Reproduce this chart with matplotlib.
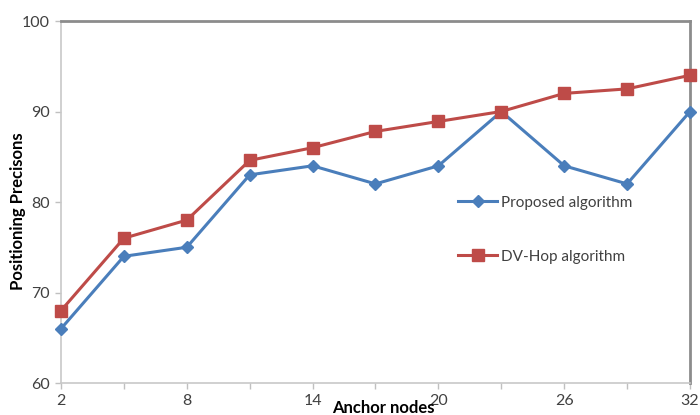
import matplotlib
matplotlib.use("Agg")
import matplotlib.pyplot as plt

anchor_nodes = [2, 5, 8, 11, 14, 17, 20, 23, 26, 29, 32]
proposed = [66, 74, 75, 83, 84, 82, 84, 90, 84, 82, 90]
dv_hop = [68, 76, 78, 84.6, 86, 87.8, 88.9, 90, 92, 92.5, 94]
xtick_labels = [2, 8, 14, 20, 26, 32]
yticks = [60, 70, 80, 90, 100]

plt.rcParams['font.family'] = ['Lato', 'DejaVu Sans']

fig = plt.figure(figsize=(7, 4.15), dpi=100)
ax = fig.add_axes([61/700, 32/415, 629/700, 362/415])

ax.plot(anchor_nodes, proposed, color='#4A7EBB', lw=2.2, marker='D', ms=6.5,
        label='Proposed algorithm', clip_on=False, zorder=3)
ax.plot(anchor_nodes, dv_hop, color='#BE4B48', lw=2.2, marker='s', ms=8.5,
        label='DV-Hop algorithm', clip_on=False, zorder=3)

ax.set_xlim(anchor_nodes[0], anchor_nodes[-1])
ax.set_ylim(60, 100)
ax.set_xticks(anchor_nodes)
ax.set_xticklabels([str(v) if v in xtick_labels else '' for v in anchor_nodes])
ax.set_yticks(yticks)

for s in ['left', 'bottom']:
    ax.spines[s].set_color('#c8c8c8')
    ax.spines[s].set_linewidth(1.2)
for s in ['top', 'right']:
    ax.spines[s].set_color('#8c8c8c')
    ax.spines[s].set_linewidth(2.0)

ax.tick_params(axis='both', colors='#c0c0c0', labelcolor='#404040', labelsize=11.5,
               length=4, width=1)
ax.tick_params(axis='x', pad=4)
ax.tick_params(axis='y', pad=4)

ax.set_xlabel('Anchor nodes', fontsize=12, fontweight='bold')
ax.xaxis.set_label_coords(0.512, -0.047)
ax.set_ylabel('Positioning Precisons', fontsize=12, fontweight='bold')
ax.yaxis.set_label_coords(-0.068, 0.474)
ax.yaxis.label.set_verticalalignment('center')

leg = ax.legend(loc='upper left', bbox_to_anchor=(0.61, 0.555), frameon=False,
                fontsize=11, labelspacing=2.6, handlelength=2.5, handletextpad=0.3,
                labelcolor='#404040')

fig.savefig('out.png', dpi=100)
